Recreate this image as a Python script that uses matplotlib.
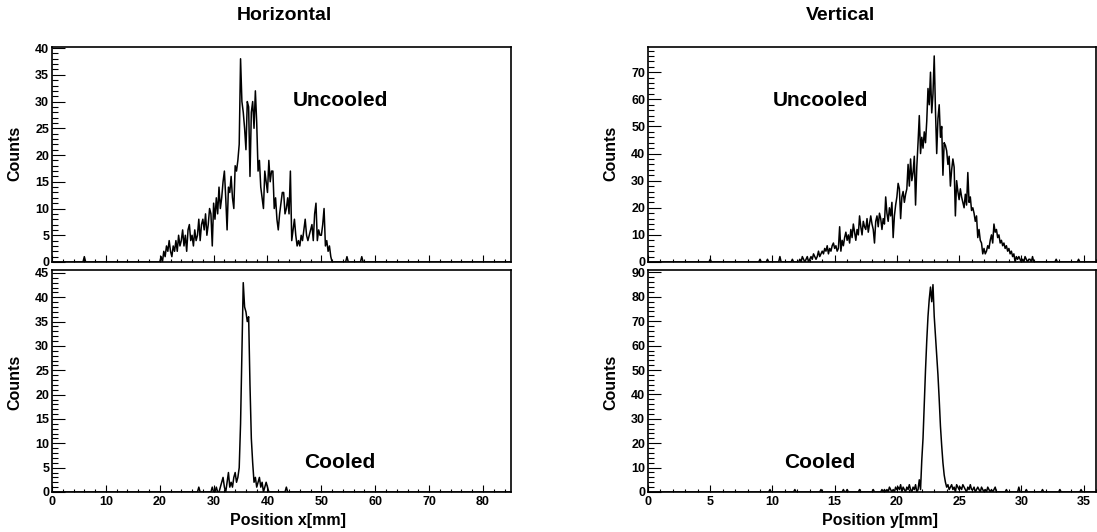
import numpy as np
import matplotlib.pyplot as plt
from matplotlib.ticker import MultipleLocator

plt.rcParams['font.family'] = ['Liberation Sans', 'DejaVu Sans']
plt.rcParams['font.weight'] = 'bold'

# =========================
# DATA (counts per bin)
# =========================

# horizontal, bin width 0.25 mm
h_bin = 0.25
h_unc_start = 20.0
h_unc = [0, 1, 0, 2, 1, 3, 2, 4, 2, 1, 3, 2, 4, 2, 5, 3,
         4, 6, 3, 5, 2, 6, 7, 4, 5, 3, 6, 4, 5, 8, 4, 7,
         8, 6, 9, 5, 7, 10, 9, 3, 11, 8, 12, 9, 14, 10, 12, 15,
         17, 12, 6, 14, 13, 16, 12, 10, 18, 17, 19, 22, 38, 30, 28, 25,
         21, 30, 29, 16, 28, 30, 25, 32, 26, 17, 19, 14, 12, 10, 17, 15,
         13, 19, 15, 17, 17, 10, 12, 8, 6, 9, 11, 13, 13, 9, 10, 12,
         9, 17, 4, 6, 8, 5, 3, 4, 3, 5, 4, 6, 8, 5, 4, 5,
         6, 7, 4, 9, 11, 4, 6, 5, 5, 7, 10, 3, 4, 2, 3, 1, 0]
h_unc_extra_pos = [6.0, 54.75, 57.5]
h_unc_extra_cnt = [1, 1, 1]

h_col_start = 27.0
h_col = [0, 1, 0, 0, 0, 0, 0, 0, 0, 0, 0, 1, 0, 0, 1, 0,
         0, 1, 2, 3, 1, 0, 2, 4, 1, 2, 1, 3, 4, 2, 3, 5,
         14, 28, 43, 38, 37, 35, 36, 22, 11, 6, 2, 3, 1, 2, 3, 1,
         2, 0, 1, 2, 1]
h_col_extra_pos = [43.5]
h_col_extra_cnt = [1]

# vertical, bin width 0.1 mm
v_bin = 0.1
v_unc_start = 12.1
v_unc = [0, 1, 0, 2, 1, 0, 1, 2, 0, 1,
         2, 1, 3, 2, 1, 2, 4, 2, 3, 4,
         3, 5, 4, 6, 3, 5, 4, 6, 7, 5,
         6, 4, 5, 13, 4, 8, 6, 9, 11, 8,
         10, 7, 12, 9, 14, 11, 8, 12, 10, 17,
         13, 10, 15, 13, 12, 16, 11, 14, 17, 14,
         12, 7, 15, 17, 13, 18, 16, 12, 16, 14,
         24, 18, 15, 20, 17, 22, 9, 17, 21, 24,
         29, 27, 16, 24, 26, 22, 25, 27, 36, 28,
         38, 30, 33, 39, 21, 35, 44, 54, 40, 46,
         42, 48, 44, 52, 64, 58, 70, 55, 62, 76,
         56, 40, 53, 58, 46, 50, 32, 44, 43, 41,
         36, 39, 28, 34, 38, 35, 17, 30, 26, 23,
         27, 24, 22, 20, 25, 21, 33, 22, 24, 19,
         20, 18, 15, 17, 9, 12, 8, 7, 3, 5,
         3, 4, 6, 5, 8, 10, 7, 14, 11, 12,
         9, 10, 7, 8, 6, 7, 5, 6, 4, 5,
         3, 4, 2, 3, 0, 2, 1, 2, 1, 0,
         1, 0, 2, 1, 0, 1, 1, 0, 2, 0]
v_unc_extra_pos = [5.0, 9.0, 9.6, 10.6, 11.6, 32.8, 34.6]
v_unc_extra_cnt = [1, 1, 1, 2, 1, 1, 1]

v_col_start = 18.1
v_col = [1, 0, 0, 0, 0, 0, 0, 1, 0, 1,
         0, 1, 0, 2, 1, 0, 1, 0, 2, 1,
         2, 1, 3, 0, 2, 1, 0, 2, 1, 3,
         1, 0, 2, 1, 3, 0, 1, 5, 1, 13,
         22, 36, 50, 62, 72, 79, 84, 78, 85, 72,
         64, 56, 48, 38, 27, 19, 12, 7, 4, 2,
         3, 1, 2, 3, 1, 2, 0, 3, 2, 1,
         2, 1, 3, 2, 1, 0, 2, 1, 3, 1,
         1, 2, 0, 1, 2, 1, 0, 2, 1, 0,
         1, 0, 2, 1, 0, 1, 0, 1, 2, 0]
v_col_extra_pos = [9.8, 11.8, 13.9, 15.7, 16.0, 17.0, 28.8, 29.8, 30.4, 31.7, 33.1, 34.8]
v_col_extra_cnt = [1, 1, 1, 1, 1, 1, 1, 2, 1, 1, 1, 1]


def build(xmax, width, start, counts, extra_pos, extra_cnt):
    n = int(round(xmax / width)) + 1
    x = np.arange(n) * width
    y = np.zeros(n)
    i0 = int(round(start / width))
    y[i0:i0 + len(counts)] = counts
    for p, c in zip(extra_pos, extra_cnt):
        y[int(round(p / width))] = c
    return x, y


W, H = 1097, 532
fig = plt.figure(figsize=(W / 100, H / 100), dpi=100)


def px_axes(x0, y0, x1, y1):
    return fig.add_axes([x0 / W, 1 - y1 / H, (x1 - x0) / W, (y1 - y0) / H])


def style(ax, xmaj, xmin, ymaj, ymin, xlim, ylim, xlabels):
    ax.set_xlim(*xlim)
    ax.set_ylim(*ylim)
    ax.xaxis.set_major_locator(MultipleLocator(xmaj))
    ax.xaxis.set_minor_locator(MultipleLocator(xmin))
    ax.yaxis.set_major_locator(MultipleLocator(ymaj))
    ax.yaxis.set_minor_locator(MultipleLocator(ymin))
    ax.tick_params(which='both', direction='in', top=False, right=False,
                   width=0.8, labelsize=9)
    ax.tick_params(axis='x', which='major', length=5, pad=3)
    ax.tick_params(axis='x', which='minor', length=2.5)
    ax.tick_params(axis='y', which='major', length=9, pad=2)
    ax.tick_params(axis='y', which='minor', length=4.5)
    ax.tick_params(axis='x', labelbottom=xlabels)
    for s in ax.spines.values():
        s.set_linewidth(1.2)


panels = [
    # (box px, hist, bin, xlim, ylim, xmaj, xmin, ymaj, ymin, xlabels)
    ((52, 47, 511, 262), (h_unc_start, h_unc, h_unc_extra_pos, h_unc_extra_cnt), h_bin,
     (0, 85.2), (0, 40.2), 10, 2, 5, 1, False),
    ((52, 270, 511, 492), (h_col_start, h_col, h_col_extra_pos, h_col_extra_cnt), h_bin,
     (0, 85.2), (0, 45.6), 10, 2, 5, 1, True),
    ((648, 47, 1096, 262), (v_unc_start, v_unc, v_unc_extra_pos, v_unc_extra_cnt), v_bin,
     (0, 36.0), (0, 79.3), 5, 1, 10, 2, False),
    ((648, 270, 1096, 492), (v_col_start, v_col, v_col_extra_pos, v_col_extra_cnt), v_bin,
     (0, 36.0), (0, 91), 5, 1, 10, 2, True),
]

for box, (start, counts, epos, ecnt), width, xlim, ylim, xmaj, xmin, ymaj, ymin, xl in panels:
    ax = px_axes(*box)
    x, y = build(xlim[1], width, start, counts, epos, ecnt)
    ax.plot(x, y, color='black', lw=1.1)
    style(ax, xmaj, xmin, ymaj, ymin, xlim, ylim, xl)

# texts
def ftext(xp, yp, s, size, **kw):
    fig.text(xp / W, 1 - yp / H, s, fontsize=size, fontweight='bold',
             ha='center', va='center', **kw)

ftext(284, 15, "Horizontal", 14)
ftext(840, 15, "Vertical", 14)
ftext(340, 100, "Uncooled", 15)
ftext(340, 462, "Cooled", 15)
ftext(820, 101, "Uncooled", 15)
ftext(820, 462, "Cooled", 15)
ftext(288, 520, "Position x[mm]", 11.5)
ftext(880, 520, "Position y[mm]", 11.5)
for xp in (15, 611):
    ftext(xp, 153, "Counts", 11.5, rotation=90)
    ftext(xp, 382, "Counts", 11.5, rotation=90)

fig.savefig("out.png", dpi=100)
